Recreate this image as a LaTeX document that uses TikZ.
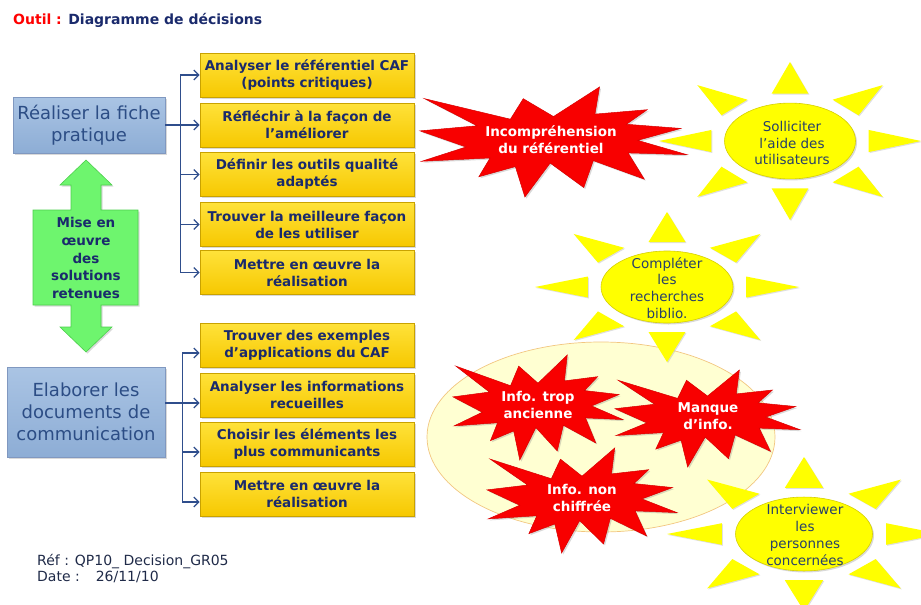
\documentclass[tikz,border=0pt]{standalone}
\usepackage{fontspec}
\setmainfont{DejaVu Sans}
\usetikzlibrary{arrows.meta,shadows,calc}

\definecolor{navytext}{HTML}{1A2A6C}
\definecolor{bluetext}{HTML}{2C4D85}
\definecolor{suntext}{HTML}{27406A}
\definecolor{foottext}{HTML}{1F2A48}
\definecolor{connblue}{HTML}{2F4E8C}
\definecolor{ytop}{HTML}{FFE23A}
\definecolor{ybot}{HTML}{F6C800}
\definecolor{yedge}{HTML}{C9A200}
\definecolor{btop}{HTML}{AAC4E4}
\definecolor{bbot}{HTML}{8DADD5}
\definecolor{bedge}{HTML}{8098C0}
\definecolor{gfill}{HTML}{6EF56E}
\definecolor{gedge}{HTML}{4CCF4C}
\definecolor{cream}{HTML}{FFFFD2}
\definecolor{creamedge}{HTML}{F2C680}
\definecolor{burstred}{HTML}{F80000}
\definecolor{burstedge}{HTML}{D80000}
\definecolor{sunyellow}{HTML}{FFFF00}
\definecolor{sunedge}{HTML}{D6D000}

% Explosion outline (21600-unit grid divided by 100)
\def\explosionpath{(108,58) -- (83.52,22.95) -- (73.12,63.2) -- (3.7,22.95) -- (46.27,76.17) -- (0,86.15) -- (37.22,117.75) -- (1.35,145.87) -- (56.67,139.37) -- (47.62,176.17) -- (77.15,156.27) -- (84.85,216) -- (105.32,149.35) -- (132.47,197.37) -- (140.2,144.57) -- (181.45,180.95) -- (168.37,129.42) -- (216,132.9) -- (176.07,104.75) -- (210.97,81.37) -- (167.02,73.15) -- (183.8,44.57) -- (141.55,53.25) -- (145.22,0) -- cycle}

% explosion: top-left corner x, y, horizontal unit, vertical unit
\newcommand\explosion[4]{%
  \begin{scope}[shift={(#1,#2)},x=#3pt,y=-#4pt]
    \filldraw[burst] \explosionpath;
  \end{scope}}

% sun: centre x, y, half width, half height
\newcommand\sunshape[4]{%
  \begin{scope}[shift={(#1,#2)},x=#3pt,y=#4pt]
    \foreach \a in {0,45,...,315}{
      \fill[sunray] (\a:1) -- ($(\a:0.6)+(\a+90:0.14)$) -- ($(\a:0.6)+(\a-90:0.14)$) -- cycle;
    }
    \filldraw[sunbody] (0,0) ellipse [x radius=0.5, y radius=0.48];
  \end{scope}}

\begin{document}
\begin{tikzpicture}[x=1pt,y=-1pt,
  softshadow/.style={drop shadow={shadow xshift=1.5pt,shadow yshift=-1.5pt,opacity=0.3}},
  ybox/.style={draw=yedge, line width=0.6pt, top color=ytop, bottom color=ybot,
    minimum width=214pt, minimum height=44pt, text width=212pt, inner sep=0pt,
    align=center, text=navytext, font=\bfseries\fontsize{13.5}{17}\selectfont, softshadow},
  bbox/.style={draw=bedge, line width=0.6pt, top color=btop, bottom color=bbot,
    inner sep=0pt, align=center, text=bluetext, font=\fontsize{18}{22}\selectfont, softshadow},
  conn/.style={draw=connblue, line width=1.3pt, -{Straight Barb[length=5pt,width=10pt]}},
  burst/.style={fill=burstred, draw=burstedge, line width=0.5pt, softshadow},
  bursttext/.style={text=white, align=center, font=\bfseries\fontsize{13.5}{17}\selectfont},
  sunray/.style={fill=sunyellow, drop shadow={shadow xshift=1pt,shadow yshift=-1pt,opacity=0.25}},
  sunbody/.style={fill=sunyellow, draw=sunedge, line width=0.6pt, softshadow},
  suntxt/.style={text=suntext, align=center, font=\fontsize{13.5}{16.7}\selectfont},
]
\useasboundingbox (0,0) rectangle (921,605);

% heading
\node[anchor=west, font=\bfseries\fontsize{14}{16}\selectfont, text=navytext, inner sep=0pt]
  (title) at (13,20) {\textcolor{red}{Outil :} Diagramme de décisions};

% the two main actions
\node[bbox, minimum width=152pt, minimum height=56pt, text width=150pt] (b1) at (89,125)
  {Réaliser la fiche\\pratique};
\node[bbox, minimum width=158pt, minimum height=90pt, text width=156pt] (b2) at (86,412)
  {Elaborer les\\documents de\\communication};

% tasks
\node[ybox] (y1) at (307,75)    {Analyser le référentiel CAF\\(points critiques)};
\node[ybox] (y2) at (307,125)   {Réfléchir à la  façon de\\l’améliorer};
\node[ybox] (y3) at (307,174.5) {Définir les outils qualité\\adaptés};
\node[ybox] (y4) at (307,224.5) {Trouver la meilleure façon\\de les utiliser};
\node[ybox] (y5) at (307,272.5) {Mettre en œuvre la\\réalisation};
\node[ybox] (y6) at (307,345)   {Trouver des exemples\\d’applications du CAF};
\node[ybox] (y7) at (307,395)   {Analyser les informations\\recueilles};
\node[ybox] (y8) at (307,444)   {Choisir les éléments les\\plus communicants};
\node[ybox] (y9) at (307,494)   {Mettre en œuvre la\\réalisation};

% branching connectors
\foreach \t in {y1,y2,y3,y4,y5}
  \draw[conn] (b1.east) -- ++(15,0) |- (\t.west);
\foreach \t in {y6,y7,y8,y9}
  \draw[conn] ($(b2.east)+(0,-9)$) -- ++(17,0) |- ($(\t.west)+(0,8)$);

% double arrow linking both actions
\filldraw[fill=gfill, draw=gedge, line width=0.6pt, softshadow]
  (86,160) -- (112,185) -- (101,185) -- (101,210) -- (138,210) -- (138,305)
  -- (101,305) -- (101,327) -- (112,327) -- (86,352) -- (60,327) -- (71,327)
  -- (71,305) -- (33,305) -- (33,210) -- (71,210) -- (71,185) -- (60,185) -- cycle;
\node[text=navytext, align=center, font=\bfseries\fontsize{13.5}{17.7}\selectfont] (impl) at (86,258)
  {Mise en\\œuvre\\des\\solutions\\retenues};

% group of information problems
\filldraw[fill=cream, draw=creamedge, line width=0.7pt] (601,437) ellipse [x radius=174, y radius=95];

% problems
\explosion{420}{87}{1.2361}{0.5093}
\node[bursttext] (p1) at (551,140) {Incompréhension\\du référentiel};
\explosion{453}{355}{0.787}{0.4861}
\node[bursttext] (p2) at (538,405) {Info. trop\\ancienne};
\explosion{615}{370}{0.8565}{0.4491}
\node[bursttext] (p3) at (708,416) {Manque\\d’info.};
\explosion{487}{448}{0.8796}{0.4861}
\node[bursttext] (p4) at (582,498) {Info. non\\chiffrée};

% remedies
\sunshape{790}{141}{131}{79}
\node[suntxt] (s1) at (792,143) {Solliciter\\l’aide des\\utilisateurs};
\sunshape{667}{287}{132}{75}
\node[suntxt] (s2) at (667,288) {Compléter\\les\\recherches\\biblio.};
\sunshape{804}{534}{137}{77}
\node[suntxt] (s3) at (805,535) {Interviewer\\les\\personnes\\concernées};

% reference block
\node[anchor=base west, inner sep=0pt, text=foottext, font=\fontsize{14}{16}\selectfont] (ref) at (37,565)
  {Réf : QP10\_ Decision\_GR05};
\node[anchor=base west, inner sep=0pt, text=foottext, font=\fontsize{14}{16}\selectfont] (date) at (37,581)
  {Date :\hspace{16pt}26/11/10};
\end{tikzpicture}
\end{document}
